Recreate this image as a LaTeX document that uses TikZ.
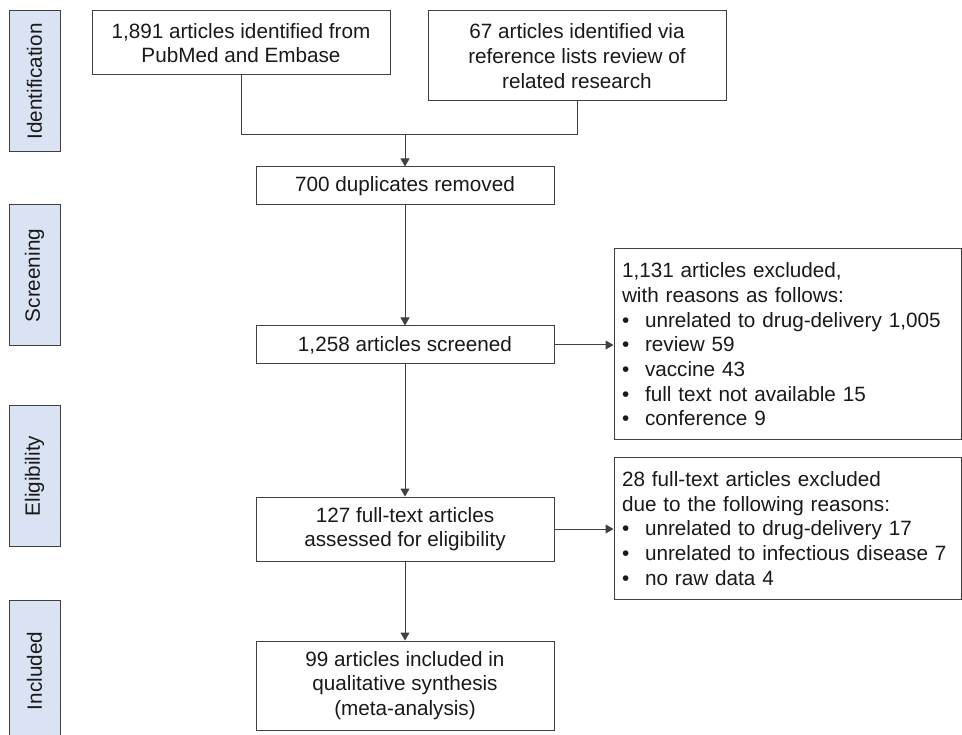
\documentclass[tikz,border=0pt]{standalone}
\usepackage{fontspec}
\setmainfont{Liberation Sans}
\usetikzlibrary{arrows.meta,calc}
\definecolor{sidefill}{RGB}{218,227,243}
\definecolor{edge}{RGB}{64,64,64}
\definecolor{txt}{RGB}{25,25,25}
\tikzset{
  every node/.style={font=\fontsize{20.7}{24.7}\selectfont, text=txt},
  sidebox/.style={draw=edge, fill=sidefill, line width=1pt, rotate=90,
    minimum width=141pt, minimum height=51pt, inner sep=0pt},
  flowbox/.style={draw=edge, line width=1pt, align=center, inner sep=0pt},
  exbox/.style={draw=edge, line width=1pt, align=left, inner xsep=8pt, inner ysep=0pt,
    text width=331pt, minimum height=#1},
  conn/.style={draw=edge, line width=1pt},
  arr/.style={conn, -{Triangle[length=8pt,width=9pt]}}
}
\newcommand{\bul}{\makebox[23pt][l]{\textbullet}}
\begin{document}
\begin{tikzpicture}[x=1pt,y=-1pt]
\useasboundingbox (0,0) rectangle (962,735);
\begin{scope}
\clip (0,0) rectangle (962,735);
% side labels
\node[sidebox] (sid) at (34.5,81.5) {Identification};
\node[sidebox] (sscr) at (34.5,275.5) {Screening};
\node[sidebox] (selg) at (34.5,476) {Eligibility};
\node[sidebox] (sinc) at (34.5,671) {Included};
% flow boxes
\node[flowbox, minimum width=298pt, minimum height=64pt] (b1) at (241,43)
  {1,891 articles identified from\\PubMed and Embase};
\node[flowbox, minimum width=298pt, minimum height=90pt] (b2) at (577,56)
  {67 articles identified via\\reference lists review of\\related research};
\node[flowbox, minimum width=298pt, minimum height=38pt] (dup) at (405,186)
  {700 duplicates removed};
\node[flowbox, minimum width=298pt, minimum height=38pt] (scrn) at (405,345)
  {1,258 articles screened};
\node[flowbox, minimum width=298pt, minimum height=64pt] (full) at (405,529)
  {127 full-text articles\\assessed for eligibility};
\node[flowbox, minimum width=298pt, minimum height=89pt] (inc) at (405,685.5)
  {99 articles included in\\qualitative synthesis\\(meta-analysis)};
% exclusion boxes
\node[exbox=191pt] (ex1) at (787.5,344.5)
  {1,131 articles excluded,\\with reasons as follows:\\
   \bul unrelated to drug-delivery 1,005\\
   \bul review 59\\
   \bul vaccine 43\\
   \bul full text not available 15\\
   \bul conference 9};
\node[exbox=141pt] (ex2) at (787.5,528.5)
  {28 full-text articles excluded\\due to the following reasons:\\
   \bul unrelated to drug-delivery 17\\
   \bul unrelated to infectious disease 7\\
   \bul no raw data 4};
% connectors
\coordinate (jn) at (405,135);
\draw[conn] (b1.south) |- (jn);
\draw[conn] (b2.south) |- (jn);
\draw[arr] (jn) -- (dup.north);
\draw[arr] (dup.south) -- (scrn.north);
\draw[arr] (scrn.south) -- (full.north);
\draw[arr] (full.south) -- (inc.north);
\draw[arr] (scrn.east) -- (scrn.east -| ex1.west);
\draw[arr] (full.east) -- (full.east -| ex2.west);
\end{scope}
\end{tikzpicture}
\end{document}
